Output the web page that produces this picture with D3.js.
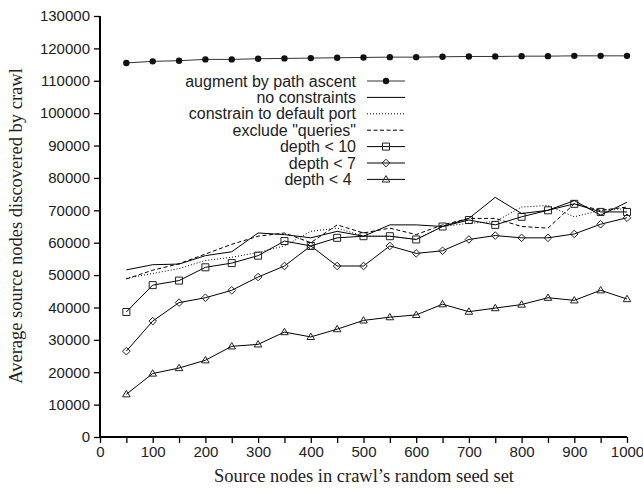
<!DOCTYPE html>
<html><head><meta charset="utf-8">
<script src="https://cdn.jsdelivr.net/npm/d3@7"></script>
<style>body{margin:0;background:#fff}</style>
</head><body>
<svg id="c" width="643" height="489"></svg>
<script>
const xs = [50,100,150,200,250,300,350,400,450,500,550,600,650,700,750,800,850,900,950,1000];
const augment = [115500,116000,116200,116600,116600,116800,116900,117000,117100,117200,117300,117300,117400,117500,117500,117600,117600,117700,117700,117700];
const noConstraints = [51600,53200,53400,56000,57200,63000,62500,61500,63500,62000,65500,65500,65000,67500,74000,69000,70000,73000,68500,72500];
const defaultPort = [49000,50500,52000,54500,55500,57000,59000,63500,64500,62000,62000,61000,65000,66000,66500,71000,71500,68000,70000,70500];
const excludeQueries = [48800,51500,53500,56500,59500,62000,63000,60000,65500,63000,64500,62500,65500,67500,67500,65000,64500,72000,70000,71000];
const depth10 = [38600,46900,48300,52400,53700,56000,60500,59000,61500,62000,62000,61000,65000,67000,65500,68000,70000,72000,69500,69500];
const depth7 = [26500,35800,41500,43000,45300,49400,52800,59000,52800,52800,59000,56700,57500,61000,62200,61500,61500,62700,65700,67700];
const depth4 = [13200,19600,21300,23700,28000,28600,32400,30900,33300,36000,37000,37700,41000,38700,39800,40900,43000,42200,45300,42600];
const xTicks = d3.range(0,1001,50);
const xLabels = d3.range(0,1001,100);
const yTicks = d3.range(0,130001,10000);
const seriesNames = ["augment by path ascent","no constraints","constrain to default port","exclude \"queries\"","depth < 10","depth < 7","depth < 4\u00a0"];

const series = [
  {name:seriesNames[0], vals:augment, marker:"dot", dash:null, color:"#333"},
  {name:seriesNames[1], vals:noConstraints, marker:null, dash:null, color:"#000"},
  {name:seriesNames[2], vals:defaultPort, marker:null, dash:"1,2", color:"#000"},
  {name:seriesNames[3], vals:excludeQueries, marker:null, dash:"4,2.5", color:"#000"},
  {name:seriesNames[4], vals:depth10, marker:"square", dash:null, color:"#000"},
  {name:seriesNames[5], vals:depth7, marker:"diamond", dash:null, color:"#000"},
  {name:seriesNames[6], vals:depth4, marker:"triangle", dash:null, color:"#000"}
];

const svg = d3.select("#c");
const x = d3.scaleLinear().domain([0,1000]).range([100,627]);
const y = d3.scaleLinear().domain([0,130000]).range([437,16]);

const gx = svg.append("g").attr("transform","translate(0,437)")
  .call(d3.axisBottom(x).tickValues(xTicks).tickSize(6).tickPadding(3)
    .tickFormat(d => xLabels.includes(d) ? d : ""));
const gy = svg.append("g").attr("transform","translate(100,0)")
  .call(d3.axisLeft(y).tickValues(yTicks).tickSize(6).tickPadding(4).tickFormat(d3.format("d")));
[gx,gy].forEach(g=>{
  g.select(".domain").attr("stroke","#000").attr("stroke-width",2);
  g.selectAll(".tick line").attr("stroke","#000").attr("stroke-width",1.3);
  g.selectAll("text").attr("font-family","'Liberation Sans', Arial, sans-serif").attr("font-size",15).attr("fill","#222");
});
gx.select(".domain").attr("d","M100,0H627");
gy.select(".domain").attr("d","M0,16V437");

svg.append("text").attr("x",364).attr("y",482).attr("text-anchor","middle")
  .attr("font-family","'Liberation Serif','Times New Roman',serif").attr("font-size",18.5).attr("fill","#222")
  .text("Source nodes in crawl’s random seed set");
svg.append("text").attr("transform","translate(22,226) rotate(-90)").attr("text-anchor","middle")
  .attr("font-family","'Liberation Serif','Times New Roman',serif").attr("font-size",18.5).attr("fill","#222")
  .text("Average source nodes discovered by crawl");

const shapes = {
  dot: null,
  square: "M-3.5,-3.5H3.5V3.5H-3.5Z",
  diamond: "M0,-3.8L3.8,0L0,3.8L-3.8,0Z",
  triangle: "M0,-3.8L3.8,2.6H-3.8Z"
};
function drawMarker(g, s, px, py){
  if (s.marker==="dot") {
    g.append("circle").attr("cx",px).attr("cy",py).attr("r",3.2).attr("fill","#111");
  } else {
    g.append("path").attr("d", shapes[s.marker]).attr("transform",`translate(${px},${py})`)
      .attr("fill","none").attr("stroke","#222").attr("stroke-width",1);
  }
}

const line = d3.line().x((d,i)=>x(xs[i])).y(d=>y(d));
series.slice().reverse().forEach(s=>{
  const g = svg.append("g");
  g.append("path").attr("d", line(s.vals)).attr("fill","none").attr("stroke",s.color)
    .attr("stroke-width",1).attr("stroke-dasharray",s.dash);
  if (s.marker) s.vals.forEach((v,i)=>drawMarker(g,s,x(xs[i]),y(v)));
});

const lg = svg.append("g");
series.forEach((s,i)=>{
  const yy = 81 + i*16.4;
  lg.append("text").attr("x",356).attr("y",yy+5.5).attr("text-anchor","end")
    .attr("font-family","'Liberation Sans', Arial, sans-serif").attr("font-size",16).attr("fill","#222")
    .text(s.name);
  lg.append("line").attr("x1",367).attr("x2",405).attr("y1",yy).attr("y2",yy)
    .attr("stroke",s.color).attr("stroke-width",1).attr("stroke-dasharray",s.dash);
  if (s.marker) drawMarker(lg,s,386,yy);
});
</script>
</body></html>
